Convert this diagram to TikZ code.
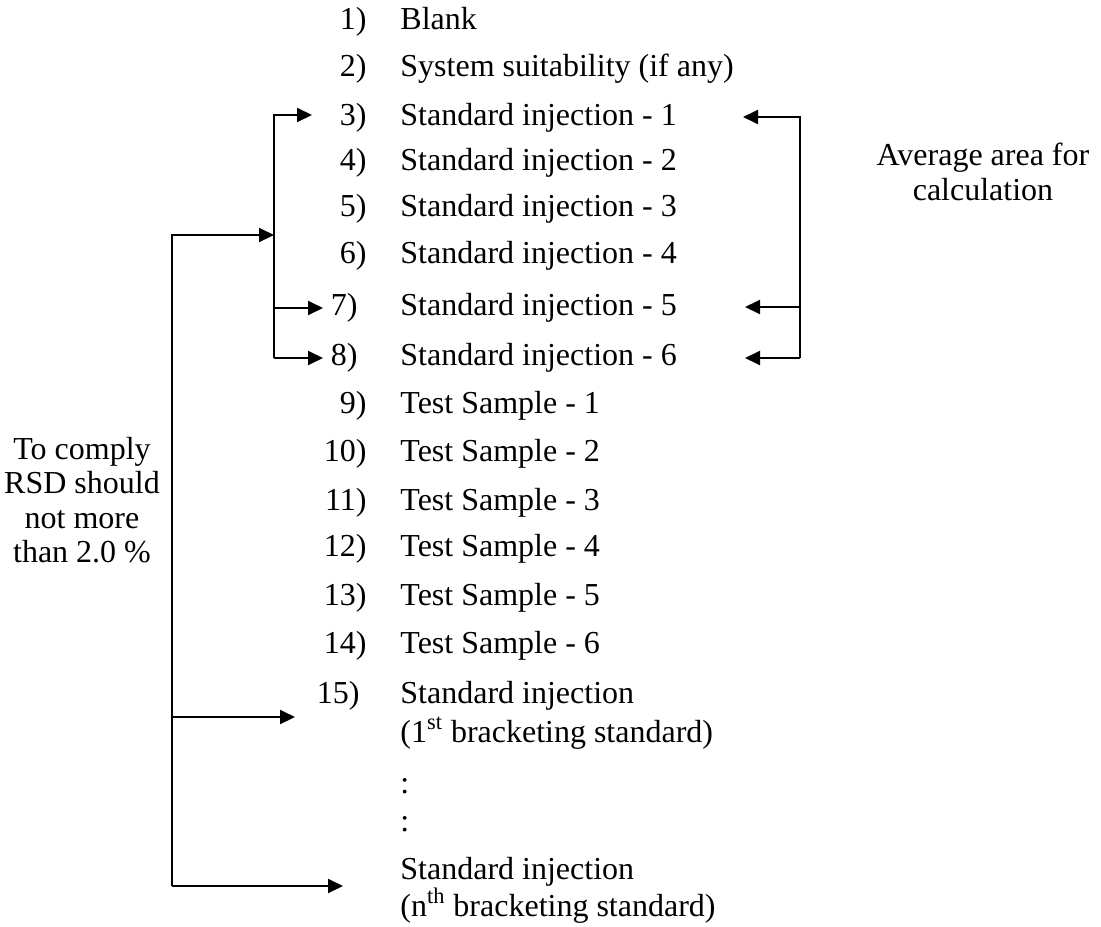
\documentclass[tikz,border=0pt]{standalone}
\usepackage{fontspec}
\setmainfont{Liberation Serif}
\usetikzlibrary{arrows.meta}
\begin{document}
\begin{tikzpicture}[x=0.5pt,y=-0.5pt,
  every node/.style={inner sep=0pt, font=\fontsize{16}{17.15}\selectfont},
  num/.style={anchor=base east},
  item/.style={anchor=base west},
  note/.style={align=center},
  arr/.style={line width=1pt, -{Triangle[length=7.5pt,width=7pt]}},
  rule/.style={line width=1pt}]
\useasboundingbox (0,0) rectangle (1101,926);

% numbered sequence of injections
\node[num]  (n1)  at (367,29)  {1)};   \node[item] (i1)  at (400,29)  {Blank};
\node[num]  (n2)  at (367,76)  {2)};   \node[item] (i2)  at (400,76)  {System suitability (if any)};
\node[num]  (n3)  at (367,125) {3)};   \node[item] (i3)  at (400,125) {Standard injection - 1};
\node[num]  (n4)  at (367,170) {4)};   \node[item] (i4)  at (400,170) {Standard injection - 2};
\node[num]  (n5)  at (367,216) {5)};   \node[item] (i5)  at (400,216) {Standard injection - 3};
\node[num]  (n6)  at (367,263) {6)};   \node[item] (i6)  at (400,263) {Standard injection - 4};
\node[num]  (n7)  at (358,315) {7)};   \node[item] (i7)  at (400,315) {Standard injection - 5};
\node[num]  (n8)  at (358,365) {8)};   \node[item] (i8)  at (400,365) {Standard injection - 6};
\node[num]  (n9)  at (367,413) {9)};   \node[item] (i9)  at (400,413) {Test Sample - 1};
\node[num]  (n10) at (367,461) {10)};  \node[item] (i10) at (400,461) {Test Sample - 2};
\node[num]  (n11) at (367,510) {11)};  \node[item] (i11) at (400,510) {Test Sample - 3};
\node[num]  (n12) at (367,556) {12)};  \node[item] (i12) at (400,556) {Test Sample - 4};
\node[num]  (n13) at (367,605) {13)};  \node[item] (i13) at (400,605) {Test Sample - 5};
\node[num]  (n14) at (367,653) {14)};  \node[item] (i14) at (400,653) {Test Sample - 6};
\node[num]  (n15) at (360,703) {15)};  \node[item] (i15) at (400,703) {Standard injection};
\node[item] (i15b) at (400,742) {(1\textsuperscript{st} bracketing standard)};
\node[item] (c1)  at (400,793) {:};
\node[item] (c2)  at (400,831) {:};
\node[item] (in)  at (400,879) {Standard injection};
\node[item] (inb) at (400,916) {(n\textsuperscript{th} bracketing standard)};

% side notes
\node[note] (avg) at (983,172) {Average area for\\calculation};
\node[note] (rsd) at (82,500)  {To comply\\RSD should\\not more\\than 2.0 \%};

% inner bracket on the left: standards 1, 5 and 6
\coordinate (lt)  at (274,115);
\coordinate (lm)  at (274,308);
\coordinate (lb)  at (274,358);
\coordinate (t3)  at (312,115);
\coordinate (t7)  at (323,308);
\coordinate (t8)  at (323,358);
\draw[arr] (lb) -- (lt) -- (t3);
\draw[arr] (lm) -- (t7);
\draw[arr] (lb) -- (t8);

% outer bracket: RSD check over all bracketing standards
\coordinate (ot)  at (172,235);
\coordinate (oj)  at (274,235);
\coordinate (om)  at (172,717);
\coordinate (ob)  at (172,886);
\coordinate (t15) at (295,717);
\coordinate (tn)  at (343,886);
\draw[arr] (ob) -- (ot) -- (oj);
\draw[arr] (om) -- (t15);
\draw[arr] (ob) -- (tn);

% right bracket: standards used for the average area
\coordinate (rt)  at (800,117);
\coordinate (rm)  at (800,307);
\coordinate (rb)  at (800,358);
\coordinate (a3)  at (743,117);
\coordinate (a7)  at (745,307);
\coordinate (a8)  at (745,358);
\draw[arr] (rb) -- (rt) -- (a3);
\draw[arr] (rm) -- (a7);
\draw[arr] (rb) -- (a8);
\end{tikzpicture}
\end{document}
